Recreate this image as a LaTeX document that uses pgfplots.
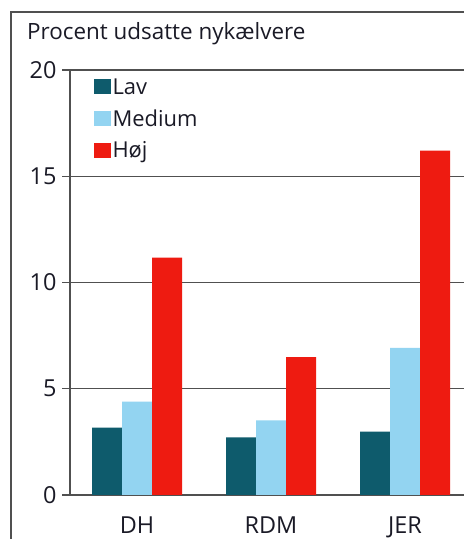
\documentclass[border=0pt]{standalone}
\usepackage{fontspec}
\setmainfont{Open Sans}
\usepackage{pgfplots}
\pgfplotsset{compat=1.18}
\definecolor{lav}{HTML}{0E5B6C}
\definecolor{med}{HTML}{93D4F1}
\definecolor{hoj}{HTML}{EE1B11}
\definecolor{txt}{HTML}{1A1A26}
\definecolor{ax}{HTML}{505050}
\begin{document}
\begin{tikzpicture}[x=1bp,y=1bp]
\useasboundingbox (0,0) rectangle (464,539);
\clip (0,0) rectangle (464,539);
\fill[white] (0,0) rectangle (464,539);
\draw[ax, line width=1.3bp] (11,-20) -- (11,527) -- (500,527);
\node[anchor=base west, font=\fontsize{22.5}{26}\selectfont, text=txt, inner sep=0pt] at (27,499) {Procent udsatte nykælvere};
\begin{axis}[
  at={(70bp,44bp)}, anchor=south west,
  scale only axis, width=402bp, height=425bp,
  xmin=0, xmax=3, ymin=0, ymax=20,
  axis lines*=left,
  axis line style={ax, line width=1.3bp},
  ytick={0,5,10,15,20},
  ymajorgrids, grid style={ax, line width=1.3bp},
  xtick={0.5,1.5,2.5}, xticklabels={DH,RDM,JER},
  x tick style={draw=none},
  y tick style={ax, line width=1.3bp},
  tick align=outside, major tick length=8bp,
  extra x ticks={0,1,2,3}, extra x tick labels={},
  extra x tick style={grid=none, major tick length=17bp, tick style={draw=ax, line width=1.3bp}},
  ticklabel style={font=\fontsize{23.5}{27}\selectfont, text=txt},
  /pgf/number format/assume math mode=true,
  xticklabel style={yshift=-10bp},
  yticklabel style={xshift=-2bp},
  ybar=0pt, bar width=30bp,
  legend style={at={(rel axis cs:0.058,0.985)}, anchor=north west, draw=none, fill=none,
    font=\fontsize{22}{25}\selectfont, text=txt, row sep=10bp, inner sep=0pt},
  legend cell align=left,
]
\addplot[fill=lav, draw=none, legend image code/.code={\fill[lav] (0bp,-7bp) rectangle (17bp,8bp);}] coordinates {(0.5,3.17) (1.5,2.71) (2.5,2.98)};
\addplot[fill=med, draw=none, legend image code/.code={\fill[med] (0bp,-7bp) rectangle (17bp,8bp);}] coordinates {(0.5,4.39) (1.5,3.51) (2.5,6.92)};
\addplot[fill=hoj, draw=none, legend image code/.code={\fill[hoj] (0bp,-7bp) rectangle (17bp,8bp);}] coordinates {(0.5,11.17) (1.5,6.49) (2.5,16.2)};
\legend{Lav,Medium,Høj}
\end{axis}
\end{tikzpicture}
\end{document}
